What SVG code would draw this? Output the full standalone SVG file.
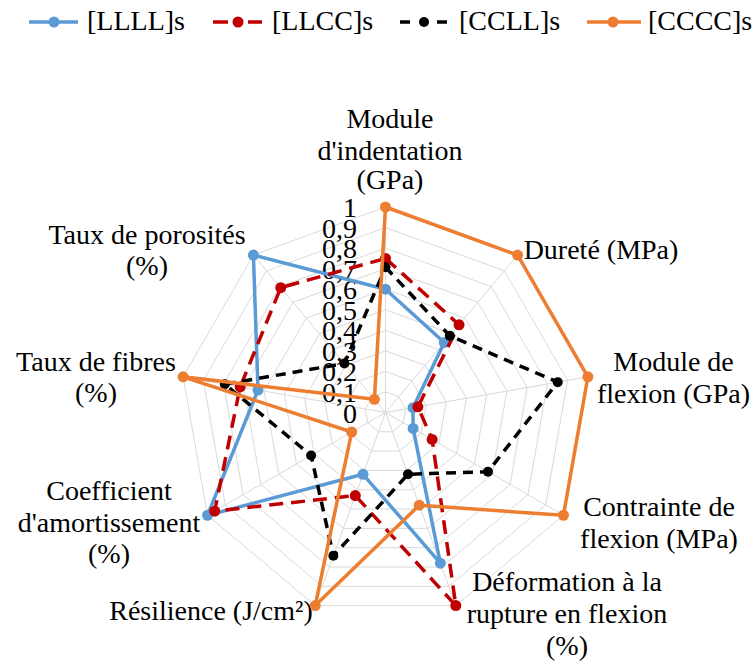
<svg xmlns="http://www.w3.org/2000/svg" width="752" height="661" viewBox="0 0 752 661">
<style>
text{font-family:'Liberation Serif','Times New Roman',Tinos,Times,'DejaVu Serif',serif;font-size:28px;fill:#000}
.grid{fill:none;stroke:#d9d9d9;stroke-width:1}
.s{fill:none;stroke-width:3.5;stroke-linejoin:round}
.blue{stroke:#5b9bd5}
.red{stroke:#c00000;stroke-dasharray:14 8}
.black{stroke:#000;stroke-dasharray:10 7}
.orange{stroke:#ed7d31}
.t{text-anchor:end}
.c{text-anchor:middle}
</style>
<defs>
<marker id="mBlue" markerUnits="userSpaceOnUse" markerWidth="14" markerHeight="14" refX="7" refY="7" overflow="visible"><circle cx="7" cy="7" r="5.5" fill="#5b9bd5"/></marker>
<marker id="mRed" markerUnits="userSpaceOnUse" markerWidth="14" markerHeight="14" refX="7" refY="7" overflow="visible"><circle cx="7" cy="7" r="5.5" fill="#c00000"/></marker>
<marker id="mBlack" markerUnits="userSpaceOnUse" markerWidth="14" markerHeight="14" refX="7" refY="7" overflow="visible"><circle cx="7" cy="7" r="5" fill="#000"/></marker>
<marker id="mOrange" markerUnits="userSpaceOnUse" markerWidth="14" markerHeight="14" refX="7" refY="7" overflow="visible"><circle cx="7" cy="7" r="5.5" fill="#ed7d31"/></marker>
</defs>
<rect width="752" height="661" fill="#fff"/>

<g id="grid">
<polygon class="grid" points="385.5,391.95 398.71,396.76 405.74,408.93 403.30,422.78 392.53,431.81 378.47,431.81 367.70,422.78 365.26,408.93 372.29,396.76"/>
<polygon class="grid" points="385.5,371.4 411.92,381.02 425.98,405.36 421.09,433.05 399.56,451.12 371.44,451.12 349.91,433.05 345.02,405.36 359.08,381.02"/>
<polygon class="grid" points="385.5,350.85 425.13,365.27 446.21,401.80 438.89,443.33 406.59,470.43 364.41,470.43 332.11,443.33 324.79,401.80 345.87,365.27"/>
<polygon class="grid" points="385.5,330.3 438.34,349.53 466.45,398.23 456.69,453.6 413.62,489.74 357.38,489.74 314.31,453.6 304.55,398.23 332.66,349.53"/>
<polygon class="grid" points="385.5,309.75 451.55,333.79 486.69,394.66 474.49,463.88 420.65,509.06 350.35,509.06 296.52,463.88 284.31,394.66 319.46,333.79"/>
<polygon class="grid" points="385.5,289.2 464.75,318.05 506.93,391.09 492.28,474.15 427.67,528.37 343.33,528.37 278.72,474.15 264.07,391.09 306.25,318.05"/>
<polygon class="grid" points="385.5,268.65 477.96,302.31 527.17,387.52 510.08,484.43 434.70,547.68 336.30,547.68 260.92,484.43 243.83,387.52 293.04,302.31"/>
<polygon class="grid" points="385.5,248.1 491.17,286.56 547.40,383.96 527.88,494.7 441.73,566.99 329.27,566.99 243.12,494.7 223.60,383.96 279.83,286.56"/>
<polygon class="grid" points="385.5,227.55 504.38,270.82 567.64,380.39 545.67,504.98 448.76,586.30 322.24,586.30 225.33,504.98 203.36,380.39 266.62,270.82"/>
<polygon class="grid" points="385.5,207 517.59,255.08 587.88,376.82 563.47,515.25 455.79,605.61 315.21,605.61 207.53,515.25 183.12,376.82 253.41,255.08"/>
<path class="grid" d="M385.5,412.5L385.5,207M385.5,412.5L517.59,255.08M385.5,412.5L587.88,376.82M385.5,412.5L563.47,515.25M385.5,412.5L455.79,605.61M385.5,412.5L315.21,605.61M385.5,412.5L207.53,515.25M385.5,412.5L183.12,376.82M385.5,412.5L253.41,255.08"/>
</g>

<g id="ticks" class="t">
<text x="357" y="422.5">0</text>
<text x="357" y="401.95">0,1</text>
<text x="357" y="381.4">0,2</text>
<text x="357" y="360.85">0,3</text>
<text x="357" y="340.3">0,4</text>
<text x="357" y="319.75">0,5</text>
<text x="357" y="299.2">0,6</text>
<text x="357" y="278.65">0,7</text>
<text x="357" y="258.1">0,8</text>
<text x="357" y="237.55">0,9</text>
<text x="357" y="217">1</text>
</g>

<g id="axis-labels" class="c">
<g id="lbl-module-indentation"><text x="390" y="128">Module</text><text x="390" y="160">d'indentation</text><text x="390" y="189">(GPa)</text></g>
<g id="lbl-durete"><text x="601" y="259">Dureté (MPa)</text></g>
<g id="lbl-module-flexion"><text x="673.5" y="371">Module de</text><text x="673.5" y="403">flexion (GPa)</text></g>
<g id="lbl-contrainte"><text x="659" y="516">Contrainte de</text><text x="659" y="548">flexion (MPa)</text></g>
<g id="lbl-deformation"><text x="567" y="591">Déformation à la</text><text x="567" y="623">rupture en flexion</text><text x="567" y="655">(%)</text></g>
<g id="lbl-resilience"><text x="211" y="620">Résilience (J/cm²)</text></g>
<g id="lbl-coefficient"><text x="109" y="500">Coefficient</text><text x="109" y="532">d'amortissement</text><text x="109" y="563">(%)</text></g>
<g id="lbl-fibres"><text x="96" y="371">Taux de fibres</text><text x="96" y="402">(%)</text></g>
<g id="lbl-porosites"><text x="147" y="244">Taux de porosités</text><text x="147" y="275">(%)</text></g>
</g>

<g id="series">
<polygon id="s-LLLL" class="s blue" marker-start="url(#mBlue)" marker-mid="url(#mBlue)" points="385.5,289.2 444.28,342.45 413.02,407.65 413.09,428.43 440.33,563.13 363.01,474.30 207.53,515.25 258.00,390.02 253.41,255.08"/>
<polygon id="s-LLCC" class="s red" marker-start="url(#mRed)" marker-mid="url(#mRed)" points="385.5,258.38 459.07,324.82 417.88,406.79 432.13,439.42 455.79,605.61 355.28,495.54 214.65,511.14 240.19,386.88 280.75,287.67"/>
<polygon id="s-CCLL" class="s black" marker-start="url(#mBlack)" marker-mid="url(#mBlack)" points="385.5,267.21 449.83,335.84 557.73,382.14 488.01,471.68 407.99,474.30 333.34,555.79 311.11,455.45 224.81,384.17 344.42,363.54"/>
<polygon id="s-CCCC" class="s orange" marker-start="url(#mOrange)" marker-mid="url(#mOrange)" points="385.5,207 517.59,255.08 587.88,376.82 563.47,515.25 419.24,505.19 315.21,605.61 351.69,432.02 183.12,376.82 374.40,399.28"/>
</g>

<g id="legend">
<g id="leg-LLLL"><line x1="29" y1="22" x2="78" y2="22" stroke="#5b9bd5" stroke-width="3.5"/><circle cx="54" cy="22" r="5.5" fill="#5b9bd5"/><text x="87" y="30">[LLLL]s</text></g>
<g id="leg-LLCC"><path d="M213,22H228M248,22H262" stroke="#c00000" stroke-width="3.5"/><circle cx="238" cy="22" r="5.5" fill="#c00000"/><text x="272" y="30">[LLCC]s</text></g>
<g id="leg-CCLL"><path d="M400,22H410M437,22H447" stroke="#000" stroke-width="3.5"/><circle cx="424" cy="22" r="5" fill="#000"/><text x="459" y="30">[CCLL]s</text></g>
<g id="leg-CCCC"><line x1="587" y1="22" x2="641" y2="22" stroke="#ed7d31" stroke-width="3.5"/><circle cx="613" cy="22" r="5.5" fill="#ed7d31"/><text x="648" y="30">[CCCC]s</text></g>
</g>
</svg>
